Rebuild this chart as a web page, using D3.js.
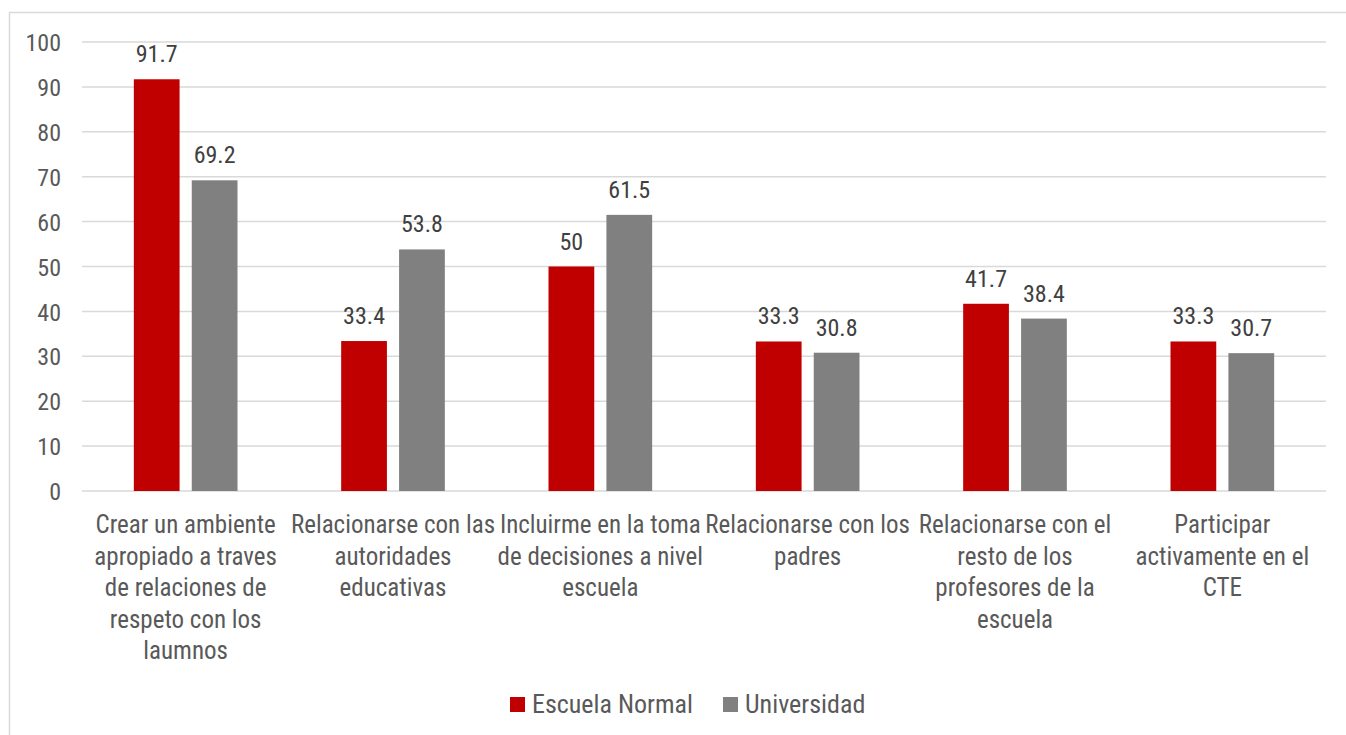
<!DOCTYPE html>
<html>
<head>
<meta charset="utf-8">
<script src="https://cdn.jsdelivr.net/npm/d3@7"></script>
<style>
  html, body { margin: 0; padding: 0; background: #fff; }
  svg { display: block; }
  text { font-family: "Liberation Sans Narrow", "Arial Narrow", "Roboto Condensed", sans-serif; }
</style>
</head>
<body>
<div id="chart"></div>
<script>
// chart data
const categories = [
  ['Crear un ambiente', 'apropiado a traves', 'de relaciones de', 'respeto con los', 'laumnos'],
  ['Relacionarse con las', 'autoridades', 'educativas'],
  ['Incluirme en la toma', 'de decisiones a nivel', 'escuela'],
  ['Relacionarse con los', 'padres'],
  ['Relacionarse con el', 'resto de los', 'profesores de la', 'escuela'],
  ['Participar', 'activamente en el', 'CTE']
];
const seriesNames = ['Escuela Normal', 'Universidad'];
const escuelaNormal = [91.7, 33.4, 50, 33.3, 41.7, 33.3];
const universidad = [69.2, 53.8, 61.5, 30.8, 38.4, 30.7];
const yTicks = [0, 10, 20, 30, 40, 50, 60, 70, 80, 90, 100];

const colors = ['#c00000', '#808080'];

const width = 1346;
const height = 735;
const plot = { left: 82, right: 1326, top: 42, bottom: 491 };

const svg = d3.select('#chart')
  .append('svg')
  .attr('width', width)
  .attr('height', height);

// outer chart border (runs off the right/bottom of the picture)
svg.append('rect')
  .attr('x', 9.5)
  .attr('y', 12.5)
  .attr('width', width + 20)
  .attr('height', height + 20)
  .attr('fill', '#fff')
  .attr('stroke', '#d9d9d9')
  .attr('stroke-width', 1.5);

const keys = categories.map((c, i) => i);

const x0 = d3.scaleBand()
  .domain(keys)
  .range([plot.left, plot.right])
  .paddingInner(0.5)
  .paddingOuter(0.25);

const x1 = d3.scaleBand()
  .domain([0, 1])
  .range([0, x0.bandwidth()])
  .paddingInner(0.21);

const y = d3.scaleLinear()
  .domain([0, 100])
  .range([plot.bottom, plot.top]);

// gridlines
svg.append('g')
  .selectAll('line')
  .data(yTicks)
  .join('line')
  .attr('x1', plot.left)
  .attr('x2', plot.right)
  .attr('y1', (d) => y(d))
  .attr('y2', (d) => y(d))
  .attr('stroke', '#d9d9d9')
  .attr('stroke-width', 1.5);

// y axis labels
const yAxis = d3.axisLeft(y)
  .tickValues(yTicks)
  .tickSize(0)
  .tickPadding(0);

const yG = svg.append('g')
  .attr('transform', `translate(61,0)`)
  .call(yAxis);
yG.select('.domain').remove();
yG.selectAll('text')
  .attr('font-family', null)
  .attr('font-size', 24)
  .attr('fill', '#595959')
  .attr('dy', '0.36em');

const series = [escuelaNormal, universidad];
const rows = keys.map((i) => series.map((s, j) => ({ cat: i, s: j, v: s[i] })));

const groups = svg.append('g')
  .selectAll('g')
  .data(rows)
  .join('g')
  .attr('transform', (d, i) => `translate(${x0(i)},0)`);

groups.selectAll('rect')
  .data((d) => d)
  .join('rect')
  .attr('x', (d) => x1(d.s))
  .attr('y', (d) => y(d.v))
  .attr('width', x1.bandwidth())
  .attr('height', (d) => y(0) - y(d.v))
  .attr('fill', (d) => colors[d.s]);

groups.selectAll('text.val')
  .data((d) => d)
  .join('text')
  .attr('class', 'val')
  .attr('x', (d) => x1(d.s) + x1.bandwidth() / 2)
  .attr('y', (d) => y(d.v) - 17)
  .attr('text-anchor', 'middle')
  .attr('font-size', 24)
  .attr('fill', '#404040')
  .text((d) => d.v);

// category labels
const catG = svg.append('g')
  .selectAll('text')
  .data(categories)
  .join('text')
  .attr('x', (d, i) => x0(i) + x0.bandwidth() / 2)
  .attr('y', 533)
  .attr('text-anchor', 'middle')
  .attr('font-size', 25)
  .attr('fill', '#595959');

catG.selectAll('tspan')
  .data((d) => d)
  .join('tspan')
  .attr('x', function () { return this.parentNode.getAttribute('x'); })
  .attr('dy', (d, i) => (i === 0 ? 0 : 31.5))
  .text((d) => d);

// legend
const legendItems = [
  { name: seriesNames[0], color: colors[0], x: 510 },
  { name: seriesNames[1], color: colors[1], x: 723 }
];

const legend = svg.append('g')
  .selectAll('g')
  .data(legendItems)
  .join('g')
  .attr('transform', (d) => `translate(${d.x},697)`);

legend.append('rect')
  .attr('width', 15)
  .attr('height', 15)
  .attr('fill', (d) => d.color);

legend.append('text')
  .attr('x', 22)
  .attr('y', 16)
  .attr('font-size', 26)
  .attr('fill', '#595959')
  .text((d) => d.name);
</script>
</body>
</html>
